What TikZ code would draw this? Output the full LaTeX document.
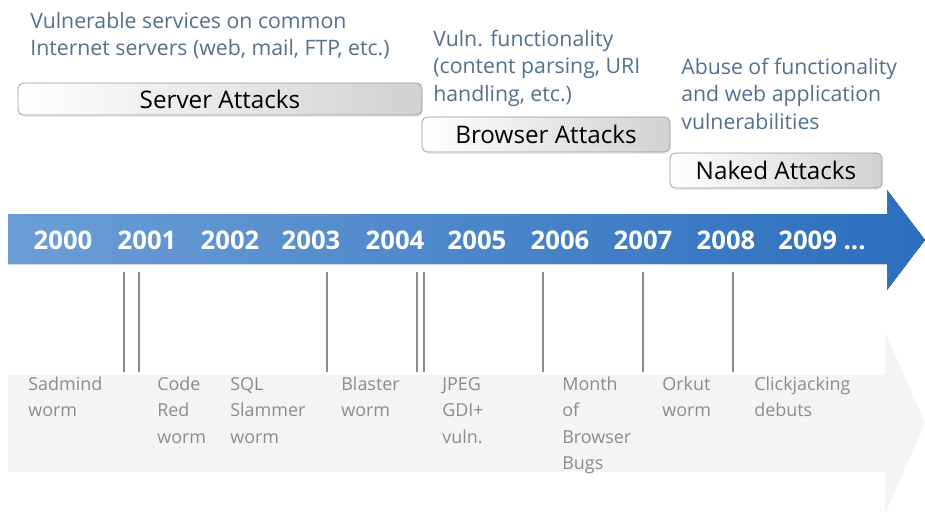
\documentclass[tikz,border=0pt]{standalone}
\usepackage{fontspec}
\setmainfont{Open Sans}
\usetikzlibrary{shadows}
\definecolor{notecol}{RGB}{82,112,142}
\definecolor{eventcol}{RGB}{140,140,140}
\definecolor{boxline}{RGB}{140,155,175}
\definecolor{arrowleft}{RGB}{108,158,214}
\definecolor{arrowright}{RGB}{44,110,190}
\definecolor{palearrow}{RGB}{244,244,244}

\begin{document}
\begin{tikzpicture}[x=0.02cm, y=-0.02cm,
    note/.style={anchor=base west, align=left, inner sep=0pt, text=notecol,
        font=\fontsize{12.1}{15.6}\selectfont},
    phase/.style={draw=boxline, rounded corners=3pt, left color=white, right color=black!18,
        inner sep=0pt, drop shadow={opacity=0.15, shadow xshift=0.5pt, shadow yshift=-1pt},
        font=\fontsize{13.8}{16}\selectfont},
    year/.style={text=white, inner sep=0pt, font=\bfseries\fontsize{14.6}{17}\selectfont},
    event/.style={anchor=base west, align=left, inner sep=0pt, text=eventcol,
        font=\fontsize{10.2}{15}\selectfont},
    tick/.style={draw=black!45, line width=0.6pt}]
    \useasboundingbox (0,0) rectangle (925,511);

    % pale arrow behind the events
    \fill[palearrow] (8,375) -- (885,375) -- (885,332) -- (925,423) -- (885,514)
        -- (885,472) -- (8,472) -- cycle;

    % blue time arrow
    \fill[left color=arrowleft, right color=arrowright] (8,214) -- (887,214) -- (887,190)
        -- (925,240) -- (887,290) -- (887,264) -- (8,264) -- cycle;

    \foreach \yr/\x in {2000/63, 2001/147, 2002/230, 2003/311, 2004/395,
        2005/477, 2006/560, 2007/643, 2008/726}
        \node[year] (y\yr) at (\x,240) {\yr};
    \node[year] (y2009) at (822,240) {2009 ...};

    % attack phases (base = last line)
    \node[note] (srvnote) at (30,55.5) {Vulnerable services on common\\Internet servers (web, mail, FTP, etc.)};
    \node[phase, minimum width=8.08cm, minimum height=0.64cm] (srv) at (220,99) {Server Attacks};

    \node[note] (brwnote) at (433,101) {Vuln. functionality\\(content parsing, URI\\handling, etc.)};
    \node[phase, minimum width=4.96cm, minimum height=0.7cm] (brw) at (546,134.5) {Browser Attacks};

    \node[note] (nakednote) at (681,129) {Abuse of functionality\\and web application\\vulnerabilities};
    \node[phase, minimum width=4.24cm, minimum height=0.7cm] (naked) at (776,170.5) {Naked Attacks};

    % events
    \node[event] (sadmind) at (28,416.5) {Sadmind\\worm};
    \node[event] (codered) at (157,443) {Code\\Red\\worm};
    \node[event] (slammer) at (230,443) {SQL\\Slammer\\worm};
    \node[event] (blaster) at (341,416.5) {Blaster\\worm};
    \node[event] (jpeg) at (442,443) {JPEG\\GDI+\\vuln.};
    \node[event] (mobb) at (562,469.5) {Month\\of\\Browser\\Bugs};
    \node[event] (orkut) at (662,416.5) {Orkut\\worm};
    \node[event] (clickjack) at (754,416.5) {Clickjacking\\debuts};

    % ticks
    \foreach \x [count=\i] in {124, 139, 327, 417, 424, 543, 643, 733} {
        \coordinate (ta\i) at (\x,272);
        \coordinate (tb\i) at (\x,372);
        \path[tick] (ta\i) edge (tb\i);
    }
\end{tikzpicture}
\end{document}
